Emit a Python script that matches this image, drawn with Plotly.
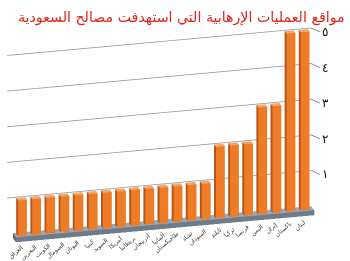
import plotly.graph_objects as go

# Data
title_text = "مواقع العمليات الإرهابية التي استهدفت مصالح السعودية"
countries = ["العراق", "البحرين", "الكويت", "الصومال", "اليونان", "كينيا", "السويد",
             "أمريكا", "بريطانيا", "أذربيجان", "ألمانيا", "طاجيكستان", "تشاد", "السودان",
             "تايلند", "تركيا", "فرنسا", "اليمن", "إيران", "باكستان", "لبنان"]
attacks = [1, 1, 1, 1, 1, 1, 1, 1, 1, 1, 1, 1, 1, 1, 2, 2, 2, 3, 3, 5, 5]
tick_vals = [1, 2, 3, 4, 5]
tick_text = ["١", "٢", "٣", "٤", "٥"]

BAR_W = 0.31      # half width of a column along the category axis
BAR_D = (0.2, 0.8)
X_MIN, X_MAX = -0.9, len(countries) - 0.4
Z_FLOOR = -0.14


def box(x0, x1, y0, y1, z0, z1, col):
    """Return vertices, triangles and per-triangle colours of a box."""
    v = [(x0, y0, z0), (x1, y0, z0), (x1, y1, z0), (x0, y1, z0),
         (x0, y0, z1), (x1, y0, z1), (x1, y1, z1), (x0, y1, z1)]
    tris = [((0, 1, 2), "bottom"), ((0, 2, 3), "bottom"),
            ((4, 5, 6), "top"), ((4, 6, 7), "top"),
            ((0, 1, 5), "front"), ((0, 5, 4), "front"),
            ((3, 2, 6), "back"), ((3, 6, 7), "back"),
            ((0, 3, 7), "left"), ((0, 7, 4), "left"),
            ((1, 2, 6), "right"), ((1, 6, 5), "right")]
    return v, [t for t, _ in tris], [col[f] for _, f in tris]


def mesh(boxes):
    X, Y, Z, I, J, K, C = [], [], [], [], [], [], []
    for v, tris, cols in boxes:
        n = len(X)
        for (a, b, c) in v:
            X.append(a); Y.append(b); Z.append(c)
        for (a, b, c) in tris:
            I.append(a + n); J.append(b + n); K.append(c + n)
        C.extend(cols)
    return go.Mesh3d(x=X, y=Y, z=Z, i=I, j=J, k=K, facecolor=C, flatshading=True,
                     lighting=dict(ambient=1, diffuse=0, specular=0, roughness=1, fresnel=0),
                     hoverinfo="skip", showscale=False)


bar_col = dict(front="#EE7B25", top="#F6A564", left="#B8561A", right="#D8661C",
               back="#C45A18", bottom="#8A3F10")
floor_col = dict(front="#6E7C8A", top="#9AA7B4", left="#5E6B78", right="#5E6B78",
                 back="#9AA7B4", bottom="#5E6B78")

bars = [box(i - BAR_W, i + BAR_W, BAR_D[0], BAR_D[1], 0, val, bar_col)
        for i, val in enumerate(attacks)]
floor = [box(X_MIN + 0.4, X_MAX, 0, 1, Z_FLOOR, 0, floor_col)]

fig = go.Figure()
fig.add_trace(mesh(floor))
fig.add_trace(mesh(bars))

# Gridlines on the back wall
for t in tick_vals:
    fig.add_trace(go.Scatter3d(x=[X_MIN, X_MAX], y=[1, 1], z=[t, t], mode="lines",
                               line=dict(color="#7F98AC", width=1.5),
                               hoverinfo="skip", showlegend=False))

annotations = []
for t, lab in zip(tick_vals, tick_text):
    annotations.append(dict(x=X_MAX, y=1, z=t, text=lab, showarrow=True, arrowhead=0,
                            arrowwidth=1, arrowcolor="#8C8C8C", ax=9, ay=4,
                            xanchor="left", yanchor="middle",
                            font=dict(family="DejaVu Sans", size=12, color="#111111")))
for i, name in enumerate(countries):
    annotations.append(dict(x=i + 0.3, y=0, z=Z_FLOOR, text=name, showarrow=False,
                            textangle=-40, xanchor="right", yanchor="top",
                            font=dict(family="DejaVu Sans", size=6, color="#333333")))

hidden = dict(showgrid=False, showline=False, zeroline=False, showbackground=False,
              showticklabels=False, showspikes=False, ticks="", title=dict(text=""))

SHIFT = 0.113
fig.update_layout(
    width=350, height=261,
    margin=dict(l=0, r=0, t=0, b=0),
    paper_bgcolor="white",
    showlegend=False,
    title=dict(text=title_text, x=0.518, y=0.935, xanchor="center", yanchor="middle",
               font=dict(family="DejaVu Sans", size=14.2, color="#E2231A")),
    scene=dict(
        domain=dict(x=[0, 1], y=[0, 1]),
        xaxis=dict(range=[X_MIN, X_MAX], **hidden),
        yaxis=dict(range=[0, 1], **hidden),
        zaxis=dict(range=[Z_FLOOR, 5.2], **hidden),
        aspectmode="manual",
        aspectratio=dict(x=2.41, y=0.097, z=1.55),
        camera=dict(eye=dict(x=-0.61 + SHIFT, y=-2.28, z=0.85),
                    center=dict(x=SHIFT, y=0, z=0),
                    up=dict(x=0, y=0, z=1), projection=dict(type="orthographic")),
        annotations=annotations,
    ),
)

fig.write_html("out.html", config={"displayModeBar": False})
